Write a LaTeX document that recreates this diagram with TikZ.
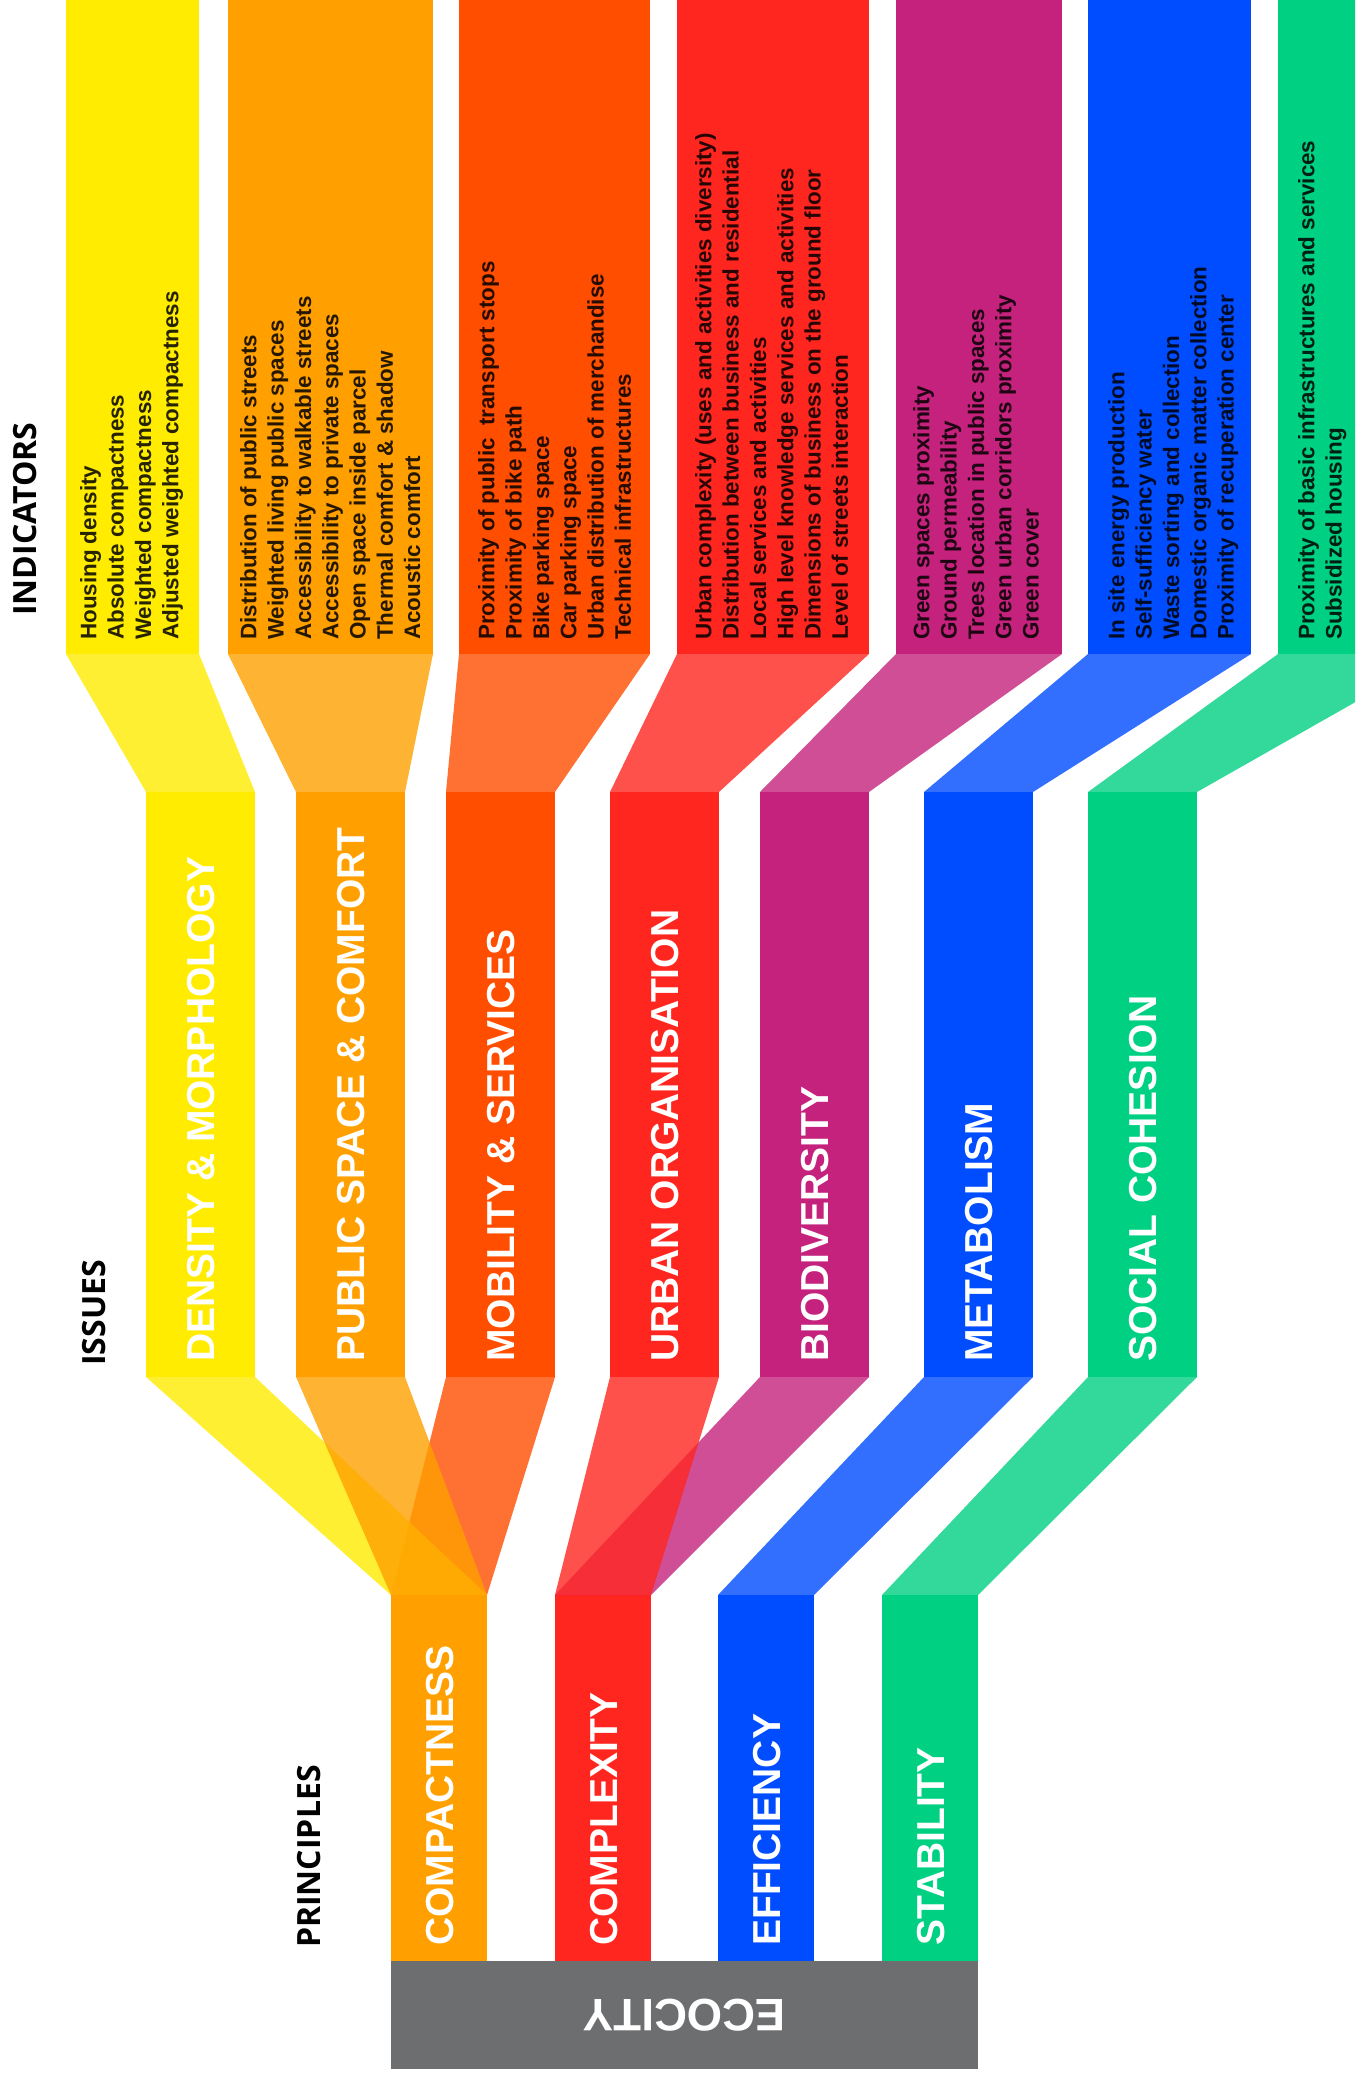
\documentclass[tikz,border=0pt]{standalone}
\usepackage{fontspec}
\setmainfont{Liberation Sans}
\newfontfamily\hdrfont{Open Sans}
\definecolor{cY}{RGB}{255,236,0}
\definecolor{cO}{RGB}{255,160,0}
\definecolor{cM}{RGB}{255,78,0}
\definecolor{cR}{RGB}{255,38,32}
\definecolor{cP}{RGB}{196,34,124}
\definecolor{cB}{RGB}{0,76,255}
\definecolor{cG}{RGB}{0,208,130}
\definecolor{cGray}{RGB}{109,110,112}
\begin{document}
\begin{tikzpicture}[x=1pt,y=-1pt,
  blk/.style={inner sep=0pt,outer sep=0pt,anchor=north west,draw=none},
  indbox/.style={blk,minimum height=654pt},
  issbox/.style={blk,minimum height=585pt,minimum width=109pt},
  prnbox/.style={blk,minimum height=366pt,minimum width=96pt},
  slant/.style={fill opacity=0.8},
  indtxt/.style={rotate=90,anchor=north west,inner sep=0pt,align=left,
     font=\bfseries\fontsize{22.4}{27.3}\selectfont,text=black,text opacity=0.85},
  isstxt/.style={rotate=90,anchor=base west,inner sep=0pt,
     font=\bfseries\fontsize{39}{40}\selectfont,text=white},
  hdrtxt/.style={rotate=90,anchor=base west,inner sep=0pt,
     font=\hdrfont\bfseries\fontsize{32}{33}\selectfont,text=black}]
\clip (0,0) rectangle (1355,2080);
\fill[white] (0,0) rectangle (1355,2080);

% indicator columns
\node[indbox,fill=cY,minimum width=133pt] (iY) at (66,0) {};
\node[indbox,fill=cO,minimum width=205pt] (iO) at (228,0) {};
\node[indbox,fill=cM,minimum width=191pt] (iM) at (459,0) {};
\node[indbox,fill=cR,minimum width=192pt] (iR) at (677,0) {};
\node[indbox,fill=cP,minimum width=166pt] (iP) at (896,0) {};
\node[indbox,fill=cB,minimum width=163pt] (iB) at (1088,0) {};
\node[indbox,fill=cG,minimum width=162pt] (iG) at (1278,0) {};

% issue columns
\node[issbox,fill=cY] (sY) at (146,792) {};
\node[issbox,fill=cO] (sO) at (296,792) {};
\node[issbox,fill=cM] (sM) at (446,792) {};
\node[issbox,fill=cR] (sR) at (610,792) {};
\node[issbox,fill=cP] (sP) at (760,792) {};
\node[issbox,fill=cB] (sB) at (924,792) {};
\node[issbox,fill=cG] (sG) at (1088,792) {};

% principle columns
\node[prnbox,fill=cO] (pC) at (391,1595) {};
\node[prnbox,fill=cR] (pX) at (555,1595) {};
\node[prnbox,fill=cB] (pE) at (718,1595) {};
\node[prnbox,fill=cG] (pS) at (882,1595) {};

% ecocity base
\node[blk,fill=cGray,minimum width=587pt,minimum height=108pt] (eco) at (391,1961) {};

% upper slants: indicators -> issues
\foreach \a/\b/\c in {iY/sY/cY,iO/sO/cO,iM/sM/cM,iR/sR/cR,iP/sP/cP,iB/sB/cB,iG/sG/cG}
  \fill[slant,\c] (\a.south west) -- (\a.south east) -- (\b.north east) -- (\b.north west) -- cycle;

% lower slants: issues -> principles
\fill[slant,cM] (sM.south west) -- (sM.south east) -- (pC.north east) -- (pC.north west) -- cycle;
\fill[slant,cY] (sY.south west) -- (sY.south east) -- (pC.north east) -- (pC.north west) -- cycle;
\fill[slant,cO] (sO.south west) -- (sO.south east) -- (pC.north east) -- (pC.north west) -- cycle;
\fill[slant,cP] (sP.south west) -- (sP.south east) -- (pX.north east) -- (pX.north west) -- cycle;
\fill[slant,cR] (sR.south west) -- (sR.south east) -- (pX.north east) -- (pX.north west) -- cycle;
\fill[slant,cB] (sB.south west) -- (sB.south east) -- (pE.north east) -- (pE.north west) -- cycle;
\fill[slant,cG] (sG.south west) -- (sG.south east) -- (pS.north east) -- (pS.north west) -- cycle;

% indicator texts
\node[indtxt] (tiY) at (80,640) {Housing density\\Absolute compactness\\Weighted compactness\\Adjusted weighted compactness};
\node[indtxt] (tiO) at (240,640) {Distribution of public streets\\Weighted living public spaces\\Accessibility to walkable streets\\Accessibility to private  spaces\\Open space inside parcel\\Thermal comfort \& shadow\\Acoustic comfort};
\node[indtxt] (tiM) at (478,640) {Proximity of public\ \ transport stops\\Proximity of bike path\\Bike parking space\\Car parking space\\Urban distribution of merchandise\\Technical infrastructures};
\node[indtxt] (tiR) at (695,640) {Urban complexity (uses and activities diversity)\\Distribution between business and residential\\Local services and activities\\High level knowledge services and activities\\Dimensions of business on the ground floor\\Level of streets interaction};
\node[indtxt] (tiP) at (913,640) {Green spaces proximity\\Ground permeability\\Trees location in public spaces\\Green urban corridors proximity\\Green cover};
\node[indtxt] (tiB) at (1108,640) {In site energy production\\Self-sufficiency water\\Waste sorting and collection\\Domestic organic matter collection\\Proximity of recuperation center};
\node[indtxt] (tiG) at (1298,640) {Proximity of basic infrastructures and services\\Subsidized housing};

% issue labels
\node[isstxt] (lY) at ([xshift=14pt,yshift=15pt]sY.south) {DENSITY \& MORPHOLOGY};
\node[isstxt] (lO) at ([xshift=14pt,yshift=15pt]sO.south) {PUBLIC SPACE \& COMFORT};
\node[isstxt] (lM) at ([xshift=14pt,yshift=15pt]sM.south) {MOBILITY \& SERVICES};
\node[isstxt] (lR) at ([xshift=14pt,yshift=15pt]sR.south) {URBAN ORGANISATION};
\node[isstxt] (lP) at ([xshift=14pt,yshift=15pt]sP.south) {BIODIVERSITY};
\node[isstxt] (lB) at ([xshift=14pt,yshift=15pt]sB.south) {METABOLISM};
\node[isstxt] (lG) at ([xshift=14pt,yshift=15pt]sG.south) {SOCIAL COHESION};

% principle labels
\node[isstxt] (lC) at ([xshift=14pt,yshift=15pt]pC.south) {COMPACTNESS};
\node[isstxt] (lX) at ([xshift=14pt,yshift=15pt]pX.south) {COMPLEXITY};
\node[isstxt] (lE) at ([xshift=14pt,yshift=15pt]pE.south) {EFFICIENCY};
\node[isstxt] (lS) at ([xshift=14pt,yshift=15pt]pS.south) {STABILITY};

% ecocity label
\node[rotate=180,inner sep=0pt,font=\bfseries\fontsize{45.5}{46}\selectfont,text=white] (lEco) at (eco.center) {ECOCITY};

% headers
\node[hdrtxt] (hInd) at (36,616) {INDICATORS};
\node[hdrtxt] (hIss) at (105,1366) {ISSUES};
\node[hdrtxt] (hPrn) at (320,1948) {PRINCIPLES};
\end{tikzpicture}
\end{document}
